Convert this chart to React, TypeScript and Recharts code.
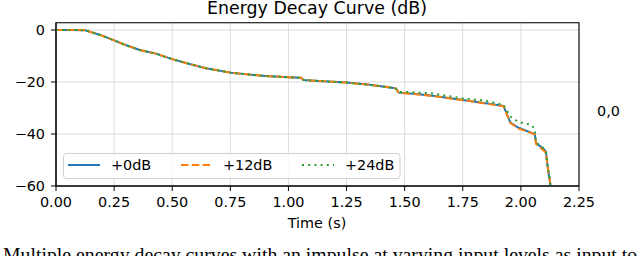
import React from "react";
import {
  LineChart,
  Line,
  XAxis,
  YAxis,
  CartesianGrid,
  ReferenceArea,
} from "recharts";

// time axis (s) and the three decay curves (dB)
const timeS = [
  0, 0.06, 0.125, 0.19, 0.25, 0.3, 0.36, 0.43, 0.5, 0.575, 0.645, 0.75, 0.85,
  0.9, 1.0, 1.055, 1.065, 1.13, 1.25, 1.35, 1.46, 1.475, 1.55, 1.62, 1.75,
  1.85, 1.925, 1.955, 1.99, 2.045, 2.06, 2.065, 2.1, 2.108, 2.115, 2.122, 2.13,
];
const db0 = [
  0, 0, -0.1, -1.9, -4.0, -5.8, -7.7, -9.1, -11.2, -13.1, -14.7, -16.4, -17.3,
  -17.7, -18.2, -18.4, -19.2, -19.6, -20.2, -21.1, -22.4, -24.1, -24.6, -25.3,
  -26.9, -28.2, -29.2, -35.6, -37.6, -39.5, -40.2, -43.5, -45.8, -47.0, -52.5,
  -56.5, -61.5,
];
const db12 = [
  0, 0, -0.1, -1.9, -4.0, -5.8, -7.7, -9.1, -11.2, -13.1, -14.7, -16.4, -17.3,
  -17.7, -18.2, -18.4, -19.2, -19.6, -20.2, -21.1, -22.4, -24.1, -24.7, -25.4,
  -27.0, -28.3, -29.3, -35.8, -37.9, -39.6, -40.3, -43.8, -46.5, -47.3, -52.5,
  -56.5, -61.5,
];
const db24 = [
  0, 0, -0.1, -1.9, -4.0, -5.8, -7.7, -9.1, -11.2, -13.1, -14.7, -16.4, -17.3,
  -17.7, -18.2, -18.4, -19.2, -19.6, -20.2, -21.1, -22.4, -23.8, -24.0, -24.4,
  -26.3, -27.2, -28.8, -33.3, -35.4, -36.5, -38.3, -43.2, -45.8, -47.0, -52.5,
  -56.5, -61.5,
];

const xTicks = [0, 0.25, 0.5, 0.75, 1, 1.25, 1.5, 1.75, 2, 2.25];
const yTicks = [0, -20, -40, -60];

const seriesNames = ["+0dB", "+12dB", "+24dB"];
const colors = ["#1f77b4", "#ff7f0e", "#2ca02c"];
const dashes = [undefined, "7.5 3.3", "2 4.2"];

const data = timeS.map((t, i) => ({
  t,
  a: db0[i],
  b: db12[i],
  c: db24[i],
}));

const FONT = "'DejaVu Sans', sans-serif";
const tickStyle = { fontSize: 14.4, fill: "#000", fontFamily: FONT };

const fmtY = (v: number) => (v < 0 ? "\u2212" + Math.abs(v) : String(v));

function Overlay() {
  const items = [
    { x: 68, tx: 111 },
    { x: 181, tx: 223 },
    { x: 302, tx: 345 },
  ];
  return (
    <svg
      width={640}
      height={256}
      style={{ position: "absolute", left: 0, top: 0, pointerEvents: "none" }}
    >
      <text x={317} y={14} textAnchor="middle" fontFamily={FONT} fontSize={17.4}>
        Energy Decay Curve (dB)
      </text>
      <text x={317} y={228} textAnchor="middle" fontFamily={FONT} fontSize={14.4}>
        Time (s)
      </text>
      <text x={597} y={115.5} fontFamily={FONT} fontSize={14.4}>
        0,0
      </text>
      <text
        x={3}
        y={261}
        fontFamily="'Liberation Serif', 'Times New Roman', serif"
        fontSize={19.8}
      >
        Multiple energy decay curves with an impulse at varying input levels as
        input to the
      </text>
      {/* legend */}
      <rect
        x={63.5}
        y={153.5}
        width={336.5}
        height={25}
        rx={3}
        fill="#fff"
        fillOpacity={0.8}
        stroke="#d0d0d0"
        strokeWidth={1}
      />
      {items.map((it, i) => (
        <g key={seriesNames[i]}>
          <line
            x1={it.x}
            x2={it.x + 32}
            y1={165}
            y2={165}
            stroke={colors[i]}
            strokeWidth={2}
            strokeDasharray={dashes[i]}
          />
          <text x={it.tx} y={170} fontFamily={FONT} fontSize={14.4}>
            {seriesNames[i]}
          </text>
        </g>
      ))}
    </svg>
  );
}

export default function App() {
  return (
    <div
      style={{
        position: "absolute",
        left: 0,
        top: 0,
        width: 640,
        height: 256,
        overflow: "hidden",
        background: "#fff",
      }}
    >
      <LineChart
        width={640}
        height={256}
        data={data}
        margin={{ top: 22.7, right: 61, bottom: 0, left: 0 }}
      >
        <CartesianGrid stroke="#dcdcdc" strokeWidth={1} />
        <XAxis
          dataKey="t"
          type="number"
          domain={[0, 2.25]}
          ticks={xTicks}
          tickFormatter={(v: number) => v.toFixed(2)}
          height={70}
          tick={tickStyle}
          tickSize={5}
          tickMargin={6}
          stroke="#000"
          interval={0}
        />
        <YAxis
          type="number"
          domain={[-60, 2.8]}
          allowDataOverflow
          ticks={yTicks}
          tickFormatter={fmtY}
          width={56}
          tick={tickStyle}
          tickSize={5}
          tickMargin={6}
          stroke="#000"
          interval={0}
        />
        {["a", "b", "c"].map((k, i) => (
          <Line
            key={k}
            dataKey={k}
            type="linear"
            stroke={colors[i]}
            strokeWidth={2}
            strokeDasharray={dashes[i]}
            dot={false}
            activeDot={false}
            isAnimationActive={false}
          />
        ))}
        <ReferenceArea
          x1={0}
          x2={2.25}
          y1={-60}
          y2={2.8}
          fill="none"
          stroke="#000"
          strokeWidth={1.1}
          ifOverflow="extendDomain"
        />
      </LineChart>
      <Overlay />
    </div>
  );
}
